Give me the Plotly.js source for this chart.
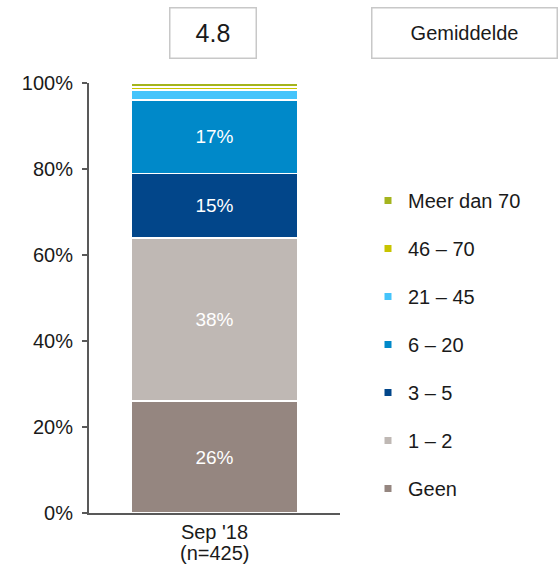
<!DOCTYPE html>
<html><head><meta charset="utf-8">
<script src="https://cdn.plot.ly/plotly-3.0.1.min.js"></script>
<style>html,body{margin:0;padding:0;background:#fff}#chart{width:559px;height:575px}</style>
</head><body><div id="chart"></div>
<script>
const categories = ["Sep '18"];
const sampleNote = "(n=425)";
const seriesNames = ["Geen", "1 – 2", "3 – 5", "6 – 20", "21 – 45", "46 – 70", "Meer dan 70"];
const geen = [26];
const een_twee = [38];
const drie_vijf = [15];
const zes_twintig = [17];
const eenentwintig_45 = [2.4];
const zesenveertig_70 = [0.7];
const meer_dan_70 = [0.9];
const shownLabels = ["26%", "38%", "15%", "17%", "", "", ""];
const seriesColors = ["#958680", "#bfb8b4", "#02468a", "#0089c9", "#45c4fb", "#c8c400", "#a4b41e"];
const yTickVals = [0, 20, 40, 60, 80, 100];
const yTickText = ["0%", "20%", "40%", "60%", "80%", "100%"];
const meanValue = "4.8";
const meanLabel = "Gemiddelde";

const values = [geen, een_twee, drie_vijf, zes_twintig, eenentwintig_45, zesenveertig_70, meer_dan_70];
const FONT = "Liberation Sans, Arial, sans-serif";
const FS = 20;

const traces = [];
values.forEach((v, i) => {
  traces.push({
    type: 'bar', x: categories, y: v, name: seriesNames[i],
    marker: {color: seriesColors[i], line: {color: '#ffffff', width: 1.5}},
    text: [shownLabels[i]], textposition: 'inside', insidetextanchor: 'middle',
    textfont: {color: '#ffffff', size: 19, family: FONT},
    showlegend: false, hoverinfo: 'skip', cliponaxis: false
  });
});
for (let i = values.length - 1; i >= 0; i--) {
  traces.push({
    type: 'scatter', mode: 'markers', x: [null], y: [null], name: seriesNames[i],
    legendgroup: 'g' + i,
    marker: {symbol: 'square', size: 7, color: seriesColors[i]},
    showlegend: true, hoverinfo: 'skip'
  });
}

const L = 89, R = 340, T = 83, B = 513;
const px = x => (x - L) / (R - L);
const py = y => (B - y) / (B - T);

const layout = {
  width: 559, height: 575,
  margin: {l: L, r: 559 - R, t: T, b: 575 - B},
  paper_bgcolor: '#ffffff', plot_bgcolor: '#ffffff',
  barmode: 'stack', bargap: 0.335,
  font: {family: FONT, size: FS, color: '#1a1a1a'},
  xaxis: {
    type: 'category', showline: true, linecolor: '#595959', linewidth: 2,
    ticks: '', showgrid: false, zeroline: false, fixedrange: true,
    tickfont: {size: FS, family: FONT, color: '#1a1a1a'}
  },
  yaxis: {
    range: [0, 100], tickvals: yTickVals, ticktext: yTickText,
    showline: true, linecolor: '#595959', linewidth: 2,
    ticks: 'outside', ticklen: 5, tickcolor: '#595959', tickwidth: 1.5,
    ticklabelstandoff: 5,
    showgrid: false, zeroline: false, fixedrange: true,
    tickfont: {size: FS, family: FONT, color: '#1a1a1a'}
  },
  legend: {
    x: px(368), y: py(181), xanchor: 'left', yanchor: 'top',
    traceorder: 'grouped', tracegroupgap: 19,
    font: {size: FS, family: FONT, color: '#1a1a1a'},
    bgcolor: 'rgba(0,0,0,0)', borderwidth: 0
  },
  annotations: [
    {xref: 'paper', yref: 'paper', x: 0.5, y: py(553), xanchor: 'center', yanchor: 'middle',
     text: sampleNote, showarrow: false, font: {size: FS, family: FONT, color: '#1a1a1a'}},
    {xref: 'paper', yref: 'paper', x: px(213), y: py(33), xanchor: 'center', yanchor: 'middle',
     text: meanValue, showarrow: false, width: 85, height: 49, borderpad: 0,
     bordercolor: '#c8c8c8', borderwidth: 1.5, bgcolor: '#ffffff',
     font: {size: 25, family: FONT, color: '#1a1a1a'}},
    {xref: 'paper', yref: 'paper', x: px(464), y: py(33), xanchor: 'center', yanchor: 'middle',
     text: meanLabel, showarrow: false, width: 184, height: 49, borderpad: 0,
     bordercolor: '#c8c8c8', borderwidth: 1.5, bgcolor: '#ffffff',
     font: {size: FS, family: FONT, color: '#1a1a1a'}}
  ]
};

Plotly.newPlot('chart', traces, layout, {displayModeBar: false, staticPlot: true});
</script></body></html>
